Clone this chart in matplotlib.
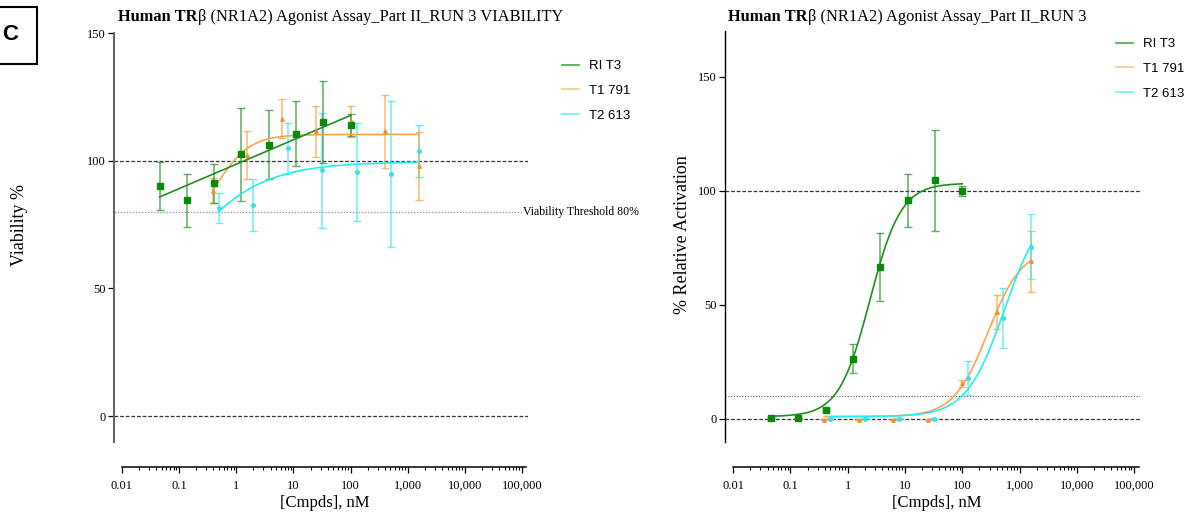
import numpy as np
import matplotlib.pyplot as plt
from matplotlib.lines import Line2D
from matplotlib.patches import Rectangle
from matplotlib.offsetbox import TextArea, HPacker, AnchoredOffsetbox

plt.rcParams['font.family'] = ['Liberation Serif', 'DejaVu Serif']

# concentrations, nM
rit3_conc = [0.0457, 0.137, 0.412, 1.23, 3.70, 11.1, 33.3, 100]
t1_conc = [0.391, 1.56, 6.25, 25, 100, 400, 1600]
t2_conc = [0.5, 2, 8, 32, 128, 512, 1600]

# viability %, mean and SD
rit3_via = [90.0, 84.5, 91.2, 102.6, 106.2, 110.5, 115.2, 114.0]
rit3_via_sd = [9.5, 10.3, 7.7, 18.2, 13.5, 12.7, 16.0, 4.3]
t1_via = [88.3, 102.3, 116.5, 111.5, 115.4, 111.5, 98.0]
t1_via_sd = [4.9, 9.3, 7.7, 10.0, 6.1, 14.3, 13.3]
t2_via = [81.6, 82.8, 104.8, 96.2, 95.7, 94.8, 103.9]
t2_via_sd = [5.8, 10.2, 10.0, 22.5, 19.2, 28.6, 10.1]

# % relative activation, mean and SD
rit3_act = [0.3, 0.2, 4.1, 26.3, 66.5, 95.8, 104.5, 99.7]
rit3_act_sd = [0.4, 0.3, 0.5, 6.4, 15.0, 11.5, 22.2, 2.2]
t1_act = [-0.3, -0.3, -0.3, -0.3, 15.6, 46.8, 69.0]
t1_act_sd = [0.2, 0.2, 0.2, 0.2, 1.5, 7.5, 13.5]
t2_act = [0.0, 0.0, 0.0, 0.0, 17.8, 44.2, 75.5]
t2_act_sd = [0.2, 0.2, 0.2, 0.2, 7.5, 13.2, 14.2]

# 4PL fit parameters: bottom, top, logEC50, hill
t1_via_fit = (70.0, 110.3, -0.36, 1.45)
t2_via_fit = (0.0, 99.6, -1.36, 0.58)
rit3_act_fit = (1.0, 103.3, 0.39, 1.6)
t1_act_fit = (1.0, 75.0, 2.45, 1.45)
t2_act_fit = (1.0, 95.0, 2.74, 1.3)

names = ['RI T3', 'T1 791', 'T2 613']
line_cols = ['#1f8f1f', '#f8a54f', '#22eef2']
bar_cols = ['#2a922a', '#f4a048', '#3ee8ee']
mk_cols = ['#078a07', '#f09030', '#3ee0e8']
markers = ['s', '^', 'o']
msizes = [4.0, 2.5, 2.6]

xticks = [0.01, 0.1, 1, 10, 100, 1000, 10000, 100000]
xticklabels = ['0.01', '0.1', '1', '10', '100', '1,000', '10,000', '100,000']
xminor = [m * d for d in xticks[:-1] for m in range(2, 10)]


def four_pl(x, p):
    b, t, lec, h = p
    return b + (t - b) / (1 + 10 ** ((lec - np.log10(x)) * h))


def style_axes(ax, ylim, yspine_col, yspine_lw):
    ax.set_xscale('log')
    ax.set_xlim(10 ** -2.14, 10 ** 5.105)
    ax.set_ylim(*ylim)
    ax.spines['top'].set_visible(False)
    ax.spines['right'].set_visible(False)
    ax.spines['left'].set_color(yspine_col)
    ax.spines['left'].set_linewidth(yspine_lw)
    ax.spines['bottom'].set_position(('outward', 18.3))
    ax.spines['bottom'].set_bounds(0.01, 1.2e5)
    ax.spines['bottom'].set_linewidth(1.1)
    ax.set_xticks(xticks)
    ax.set_xticks(xminor, minor=True)
    ax.set_xticklabels(xticklabels)
    ax.set_yticks([0, 50, 100, 150])
    ax.tick_params(axis='both', which='major', labelsize=9, length=4, width=0.9, pad=2)
    ax.tick_params(axis='x', which='minor', length=2.4, width=0.8)
    ax.tick_params(axis='x', pad=5)
    ax.patch.set_visible(False)


def draw_set(ax, i, conc, vals, sd, curve_x, curve_y):
    ax.errorbar(conc, vals, yerr=sd, fmt='none', ecolor=bar_cols[i], alpha=0.75,
                elinewidth=1.1, capsize=2.6, capthick=1.0, zorder=3, clip_on=False)
    ax.plot(curve_x, curve_y, color=line_cols[i], lw=1.2, zorder=4, clip_on=False)
    ax.plot(conc, vals, ls='none', marker=markers[i], ms=msizes[i], color=mk_cols[i],
            mec=mk_cols[i], zorder=5, clip_on=False)


fig = plt.figure(figsize=(12.02, 5.15), dpi=100)

# ---- viability panel
ax1 = fig.add_axes([0.0948, 0.1425, 0.3444, 0.7934])
style_axes(ax1, (-10, 150), '#666666', 1.5)
ax1.axhline(100, color='#333333', ls=(0, (3, 1.5)), lw=0.9, zorder=1)
ax1.axhline(0, color='#333333', ls=(0, (3, 1.5)), lw=0.9, zorder=1)
ax1.axhline(80, xmax=0.988, color='#9a9a9a', ls=(0, (1, 1.2)), lw=1.0, zorder=1)
ax1.text(0.988, 80, 'Viability Threshold 80%', transform=ax1.get_yaxis_transform(),
         ha='left', va='center', fontsize=8.5)

xs = np.logspace(np.log10(rit3_conc[0]), np.log10(rit3_conc[-1]), 200)
k, c0 = np.polyfit(np.log10(rit3_conc), rit3_via, 1)
xs1 = np.logspace(np.log10(t1_conc[0]), np.log10(t1_conc[-1]), 200)
xs2 = np.logspace(np.log10(t2_conc[0]), np.log10(t2_conc[-1]), 200)
draw_set(ax1, 2, t2_conc, t2_via, t2_via_sd, xs2, four_pl(xs2, t2_via_fit))
draw_set(ax1, 1, t1_conc, t1_via, t1_via_sd, xs1, four_pl(xs1, t1_via_fit))
draw_set(ax1, 0, rit3_conc, rit3_via, rit3_via_sd, xs, c0 + k * np.log10(xs))

# ---- activation panel
ax2 = fig.add_axes([0.6032, 0.1423, 0.3453, 0.7975])
style_axes(ax2, (-10, 170), 'black', 1.0)
ax2.axhline(100, color='#333333', ls=(0, (3, 1.5)), lw=0.9, zorder=1)
ax2.axhline(0, color='#333333', ls=(0, (3, 1.5)), lw=0.9, zorder=1)
ax2.axhline(10, color='#555555', ls=(0, (1, 1.5)), lw=0.8, zorder=1)

draw_set(ax2, 1, t1_conc, t1_act, t1_act_sd, xs1, four_pl(xs1, t1_act_fit))
draw_set(ax2, 2, t2_conc, t2_act, t2_act_sd, xs2, four_pl(xs2, t2_act_fit))
draw_set(ax2, 0, rit3_conc, rit3_act, rit3_act_sd, xs, four_pl(xs, rit3_act_fit))

# legends
leg_cols = ['#44a844', '#ffc48a', '#66f4f4']
handles = [Line2D([], [], color=c, lw=1.2) for c in leg_cols]
for ax, (lx, ly) in [(ax1, (562 / 1202, 1 - 60 / 515)), (ax2, (1116 / 1202, 1 - 38 / 515))]:
    ax.legend(handles, names, loc='upper left', bbox_to_anchor=(lx, ly),
              bbox_transform=fig.transFigure, frameon=False, borderpad=0,
              borderaxespad=0, handlelength=1.3, handletextpad=0.75,
              labelspacing=0.95, prop={'family': 'Liberation Sans', 'size': 9.5})


# titles: bold "Human TR" then plain remainder
def add_title(x, y, rest):
    tp = dict(fontsize=11.8, color='black')
    box = HPacker(children=[TextArea('Human TR', textprops=dict(fontweight='bold', **tp)),
                            TextArea(rest, textprops=tp)], pad=0, sep=0, align='baseline')
    fig.add_artist(AnchoredOffsetbox(loc='center left', child=box, pad=0, borderpad=0,
                                     frameon=False, bbox_to_anchor=(x, y),
                                     bbox_transform=fig.transFigure))


add_title(118 / 1202, 1 - 17 / 515, 'β (NR1A2) Agonist Assay_Part II_RUN 3 VIABILITY')
add_title(728 / 1202, 1 - 17 / 515, 'β (NR1A2) Agonist Assay_Part II_RUN 3')

# axis labels
fig.text(19 / 1202, 1 - 225 / 515, 'Viability %', rotation=90, ha='center', va='center', fontsize=13)
fig.text(682 / 1202, 1 - 235 / 515, '% Relative Activation', rotation=90, ha='center', va='center', fontsize=13)
fig.text(325 / 1202, 1 - 503 / 515, '[Cmpds], nM', ha='center', va='center', fontsize=12)
fig.text(937 / 1202, 1 - 503 / 515, '[Cmpds], nM', ha='center', va='center', fontsize=12)

# panel letter box
fig.patches.append(Rectangle((-0.002, 1 - 64.3 / 515), 39.7 / 1202, 57.6 / 515,
                             transform=fig.transFigure, fill=False, ec='black', lw=1.5))
fig.text(2 / 1202, 1 - 35 / 515, 'C', ha='left', va='center', fontsize=16,
         fontweight='bold', family='Liberation Sans')

fig.savefig('out.png', dpi=100)
